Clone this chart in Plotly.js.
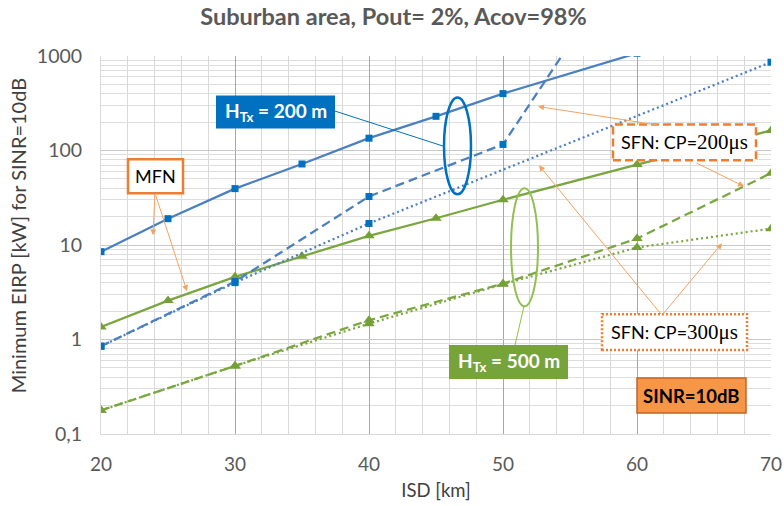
<!DOCTYPE html>
<html>
<head>
<meta charset="utf-8">
<script src="https://cdn.plot.ly/plotly-3.0.1.min.js"></script>
<style>
  html, body { margin: 0; padding: 0; background: #ffffff; }
  #chart { width: 784px; height: 506px; }
</style>
</head>
<body>
<div id="chart"></div>
<script>
// ---------- data ----------
const isd200Mfn      = [20, 25, 30, 35, 40, 45, 50, 60];
const eirp200Mfn     = [8.5, 19, 39.5, 72, 135, 230, 400, 1070];
const isd200Cp200    = [20, 30, 40, 50, 60];
const eirp200Cp200   = [0.85, 4.1, 32.6, 116, 15800];
const isd200Cp300    = [20, 30, 40, 70];
const eirp200Cp300   = [0.85, 4.0, 16.9, 860];
const isd500Mfn      = [20, 25, 30, 35, 40, 45, 50, 60, 70];
const eirp500Mfn     = [1.36, 2.58, 4.6, 7.6, 12.5, 19.2, 30.1, 71, 163];
const isd500Cp200    = [20, 30, 40, 50, 60, 70];
const eirp500Cp200   = [0.178, 0.525, 1.6, 3.9, 11.7, 57.5];
const isd500Cp300    = [20, 30, 40, 50, 60, 70];
const eirp500Cp300   = [0.178, 0.525, 1.47, 3.85, 9.4, 14.9];

const yTickVals  = [0.1, 1, 10, 100, 1000];
const yTickText  = ['0,1', '1', '10', '100', '1000'];
const chartTitle = 'Suburban area, Pout= 2%, Acov=98%';
const xTitle     = 'ISD [km]';
const yTitle     = 'Minimum EIRP [kW] for SINR=10dB';
const labelH200  = 'H<sub>Tx</sub> = 200 m';
const labelH500  = 'H<sub>Tx</sub> = 500 m';
const labelMfn   = 'MFN';
const labelCp200 = 'SFN: CP=<span style="font-family:Liberation Serif;font-size:21px">200μs</span>';
const labelCp300 = 'SFN: CP=<span style="font-family:Liberation Serif;font-size:21px">300μs</span>';
const labelSinr  = 'SINR=10dB';

// ---------- styles ----------
const BLUE_LINE = '#4A7FC0', BLUE_MK = '#0070C0';
const GREEN_LINE = '#7AA63F', GREEN_MK = '#74A035';
const ORANGE = '#ED7D31', ARROW = '#F4A261';
const FONT = 'Lato, "Open Sans", sans-serif';

function trace(x, y, color, mk, dash, sym, size) {
  return {
    x: x, y: y, type: 'scatter', mode: 'lines+markers',
    line: { color: color, width: 2.25, dash: dash },
    marker: { color: mk, symbol: sym, size: size },
    hoverinfo: 'skip', cliponaxis: true
  };
}

const data = [
  trace(isd500Cp300, eirp500Cp300, GREEN_LINE, GREEN_MK, '2px,3px', 'triangle-up', 10),
  trace(isd500Cp200, eirp500Cp200, GREEN_LINE, GREEN_MK, '9px,5px', 'triangle-up', 10),
  trace(isd500Mfn, eirp500Mfn, GREEN_LINE, GREEN_MK, 'solid', 'triangle-up', 10),
  trace(isd200Cp300, eirp200Cp300, BLUE_LINE, BLUE_MK, '2px,3px', 'square', 7),
  trace(isd200Cp200, eirp200Cp200, BLUE_LINE, BLUE_MK, '9px,5px', 'square', 7),
  trace(isd200Mfn, eirp200Mfn, BLUE_LINE, BLUE_MK, 'solid', 'square', 7)
];

// ---------- pixel -> paper helpers for decorations ----------
const PL = 101, PR = 771, PT = 55.5, PB = 434;
const fx = p => (p - PL) / (PR - PL);
const fy = p => (PB - p) / (PB - PT);

function rect(x0, y0, x1, y1, fill, lc, lw, dash) {
  return { type: 'rect', xref: 'paper', yref: 'paper',
    x0: fx(x0), x1: fx(x1), y0: fy(y1), y1: fy(y0),
    fillcolor: fill, line: { color: lc, width: lw, dash: dash || 'solid' } };
}
function ellipse(x0, y0, x1, y1, lc, lw) {
  return { type: 'circle', xref: 'paper', yref: 'paper',
    x0: fx(x0), x1: fx(x1), y0: fy(y1), y1: fy(y0),
    line: { color: lc, width: lw } };
}
function seg(x0, y0, x1, y1, lc, lw) {
  return { type: 'line', xref: 'paper', yref: 'paper',
    x0: fx(x0), x1: fx(x1), y0: fy(y0), y1: fy(y1),
    line: { color: lc, width: lw } };
}
function label(cx, cy, text, color, size, bold, angle) {
  return { xref: 'paper', yref: 'paper', x: fx(cx), y: fy(cy),
    xanchor: 'center', yanchor: 'middle', showarrow: false,
    text: bold ? '<b>' + text + '</b>' : text, textangle: angle || 0,
    font: { family: FONT, size: size, color: color } };
}
function arrow(tx, ty, hx, hy) {
  return { xref: 'paper', yref: 'paper', x: fx(hx), y: fy(hy),
    ax: tx - hx, ay: ty - hy, text: '', showarrow: true,
    arrowhead: 2, arrowsize: 1.2, arrowwidth: 1, arrowcolor: ARROW, standoff: 0, startstandoff: 0 };
}

const shapes = [
  seg(333, 110, 444, 146, BLUE_MK, 1),
  ellipse(444, 97, 471, 194, BLUE_MK, 2.5),
  seg(515, 345, 524, 306, '#92C050', 1),
  ellipse(511, 188, 538, 306, '#92C050', 2),
  rect(216, 95, 335, 128, BLUE_MK, BLUE_MK, 0),
  rect(449, 345, 568, 379, '#77A33B', '#77A33B', 0),
  rect(128, 159, 183, 193, '#ffffff', ORANGE, 2.5),
  rect(613, 124, 756, 160, '#ffffff', ORANGE, 2.5, '8px,4px'),
  rect(602, 314, 747, 350, '#ffffff', ORANGE, 2.5, '2px,2px'),
  rect(637, 378, 746, 413, '#F79646', '#C0652C', 1.5)
];

const annotations = [
  arrow(155, 193, 153, 235),
  arrow(155, 193, 187, 291),
  arrow(660, 125, 538, 106),
  arrow(695, 162, 744, 186),
  arrow(662, 315, 539, 165),
  arrow(662, 315, 722, 243),
  label(275.5, 111.5, labelH200, '#ffffff', 19, true),
  label(508.5, 362, labelH500, '#ffffff', 19, true),
  label(155.5, 176, labelMfn, '#000000', 18, false),
  label(684.5, 142, labelCp200, '#000000', 18, false),
  label(674.5, 332, labelCp300, '#000000', 18, false),
  label(691.5, 395.5, labelSinr, '#000000', 18.5, true),
  label(18, 236, yTitle, '#404040', 20, false, -90)
];

const layout = {
  width: 784, height: 506,
  margin: { l: PL, r: 784 - PR, t: PT, b: 506 - PB, pad: 0 },
  paper_bgcolor: '#ffffff', plot_bgcolor: '#ffffff',
  showlegend: false,
  font: { family: FONT, color: '#595959', size: 18 },
  title: { text: '<b>' + chartTitle + '</b>', x: 393.5 / 784, xanchor: 'center', y: 1 - 17 / 506, yanchor: 'middle',
           font: { family: FONT, size: 23.5, color: '#595959' } },
  xaxis: {
    type: 'linear', range: [20, 70], dtick: 10, tick0: 20,
    showgrid: true, gridcolor: '#A6A6A6', gridwidth: 1,
    minor: { dtick: 2, showgrid: true, gridcolor: '#D9D9D9', gridwidth: 1 },
    zeroline: false, showline: true, linecolor: '#D9D9D9',
    ticks: 'outside', ticklen: 13, tickcolor: 'rgba(0,0,0,0)',
    tickfont: { family: FONT, size: 19, color: '#595959' },
    title: { text: xTitle, font: { family: FONT, size: 18.5, color: '#404040' }, standoff: 10 }
  },
  yaxis: {
    type: 'log', range: [-1, 3],
    tickvals: yTickVals, ticktext: yTickText,
    showgrid: true, gridcolor: '#C8C8C8', gridwidth: 1,
    minor: { dtick: 'D1', showgrid: true, gridcolor: '#DDDDDD', gridwidth: 1 },
    zeroline: false, showline: true, linecolor: '#D9D9D9',
    ticks: 'outside', ticklen: 14, tickcolor: 'rgba(0,0,0,0)',
    tickfont: { family: FONT, size: 19.5, color: '#595959' }
  },
  shapes: shapes,
  annotations: annotations
};

Plotly.newPlot('chart', data, layout, { staticPlot: true, displayModeBar: false });
</script>
</body>
</html>
